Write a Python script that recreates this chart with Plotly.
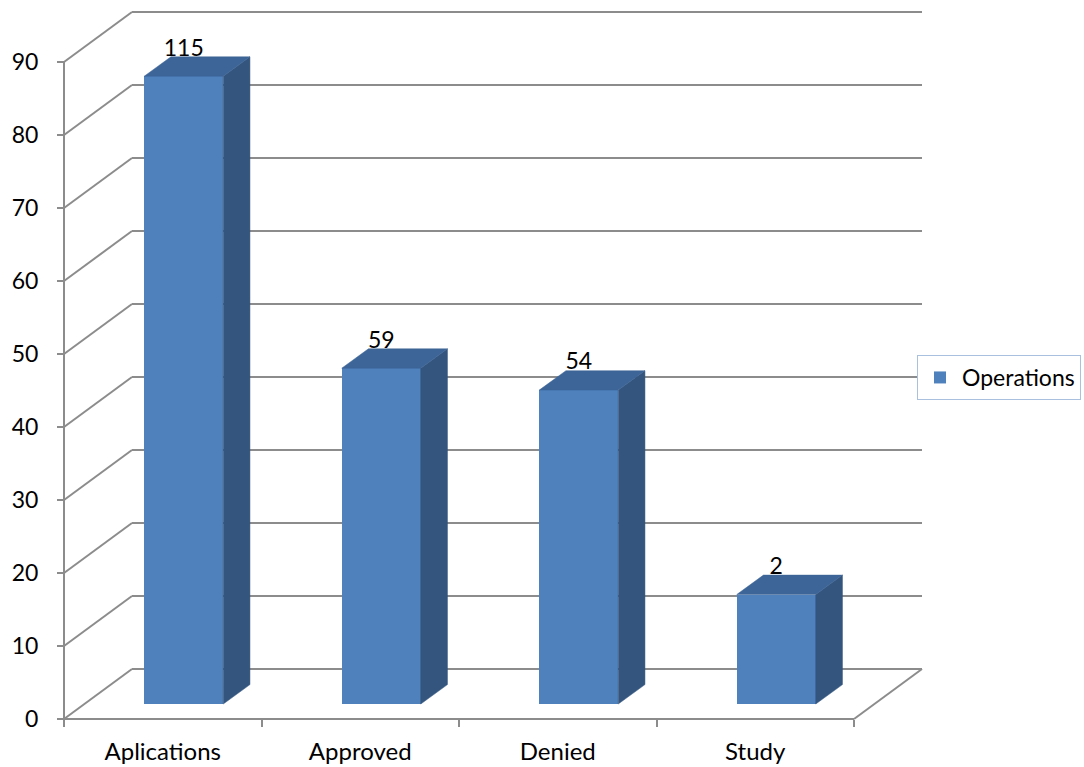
import plotly.graph_objects as go

# ---------------- data ----------------
categories = ["Aplications", "Approved", "Denied", "Study"]
bar_heights = [86, 46, 43, 15]          # bar heights
data_labels = ["115", "59", "54", "2"]  # data labels printed on the bars
y_ticks = [0, 10, 20, 30, 40, 50, 60, 70, 80, 90]
series_name = "Operations"

# ---------------- geometry / style ----------------
W, H = 1084, 767
PL, PR, PT, PB = 58, 928, 8, 724   # plot area in pixels
OX, OY = 64, 719                   # front origin (value 0, left edge)
SX = 197.5                         # pixels per category
SY = 7.3                           # pixels per value unit
FONT = "Lato, 'Open Sans', sans-serif"
GRAY = "#8C8C8C"
FRONT = "#4F81BD"
SIDE = "#33557E"
TOP = "#3D6597"


def px2x(p):
    return -0.5 + (p - OX) / SX


def px2y(p):
    return (OY - p) / SY


BX, BY = 68 / SX, 50 / SY        # back wall offset (depth of the box)
FX, FY = 21 / SX, 15 / SY        # depth offset of bar front faces
DX, DY = 26.7 / SX, 19.4 / SY    # depth of each bar
BW = 79 / SX                     # bar width
LBL = 7.0 / SY                   # label centre above the back edge of bar top

n = len(categories)
x_left, x_right = -0.5, n - 0.5

fig = go.Figure()

# front faces (real bar trace)
fig.add_trace(go.Bar(
    x=[i + FX for i in range(n)], y=bar_heights, base=FY, width=BW,
    marker=dict(color=FRONT, line=dict(width=0)), name=series_name,
    hovertext=categories, hoverinfo="text+y", showlegend=True,
))

# side and top faces
for i, h in enumerate(bar_heights):
    xl = i + FX - BW / 2
    xr = i + FX + BW / 2
    b0 = FY
    b1 = FY + h
    fig.add_trace(go.Scatter(
        x=[xr, xr + DX, xr + DX, xr, xr], y=[b0, b0 + DY, b1 + DY, b1, b0],
        fill="toself", fillcolor=SIDE, mode="lines",
        line=dict(color=SIDE, width=0.5), hoverinfo="skip", showlegend=False,
    ))
    fig.add_trace(go.Scatter(
        x=[xl, xr, xr + DX, xl + DX, xl], y=[b1, b1, b1 + DY, b1 + DY, b1],
        fill="toself", fillcolor=TOP, mode="lines",
        line=dict(color=TOP, width=0.5), hoverinfo="skip", showlegend=False,
    ))

# data labels
fig.add_trace(go.Scatter(
    x=[i + FX for i in range(n)], y=[FY + h + DY + LBL for h in bar_heights],
    text=data_labels, mode="text", textposition="middle center",
    textfont=dict(family=FONT, size=23, color="black"),
    hoverinfo="skip", showlegend=False, cliponaxis=False,
))

# gridlines / walls
shapes = []
line = dict(color=GRAY, width=2)
for v in y_ticks:
    shapes.append(dict(type="line", xref="x", yref="y", x0=x_left, y0=v,
                       x1=x_left + BX, y1=v + BY, line=line, layer="below"))
    shapes.append(dict(type="line", xref="x", yref="y", x0=x_left + BX, y0=v + BY,
                       x1=x_right + BX, y1=v + BY, line=line, layer="below"))
shapes.append(dict(type="line", xref="x", yref="y", x0=x_right, y0=0,
                   x1=x_right + BX, y1=BY, line=line, layer="below"))
shapes.append(dict(type="line", xref="x", yref="y", x0=x_left, y0=0,
                   x1=x_right, y1=0, line=line, layer="below"))
shapes.append(dict(type="line", xref="x", yref="y", x0=x_left, y0=0,
                   x1=x_left, y1=max(y_ticks), line=line, layer="below"))

fig.update_layout(
    width=W, height=H, autosize=False,
    margin=dict(l=PL, r=W - PR, t=PT, b=H - PB, pad=0, autoexpand=False),
    paper_bgcolor="white", plot_bgcolor="white",
    font=dict(family=FONT, size=23, color="black"),
    shapes=shapes,
    bargap=0,
    xaxis=dict(
        range=[px2x(PL), px2x(PR)], domain=[0, 1], anchor="free",
        position=(PB - OY) / (PB - PT), automargin=False,
        tickmode="array", tickvals=list(range(n)), ticktext=categories,
        ticks="", showline=False, showgrid=False, zeroline=False,
        tickfont=dict(family=FONT, size=24, color="black"),
        ticklabelstandoff=16,
        minor=dict(tickmode="array", tickvals=[i - 0.5 for i in range(n + 1)],
                   ticks="outside", ticklen=7, tickwidth=2, tickcolor=GRAY,
                   showgrid=False),
        fixedrange=True,
    ),
    yaxis=dict(
        range=[px2y(PB), px2y(PT)], domain=[0, 1], anchor="free",
        position=(OX - PL) / (PR - PL), automargin=False,
        tickmode="array", tickvals=y_ticks,
        ticks="outside", ticklen=7, tickwidth=2, tickcolor=GRAY,
        showline=False, showgrid=False, zeroline=False,
        tickfont=dict(family=FONT, size=23, color="black"),
        ticklabelstandoff=14,
        fixedrange=True,
    ),
    legend=dict(
        x=(917 - PL) / (PR - PL), y=(PB - 355) / (PB - PT),
        xanchor="left", yanchor="top",
        bordercolor="#A9C1DF", borderwidth=1, bgcolor="white",
        font=dict(family=FONT, size=23, color="black"),
        itemwidth=34,
    ),
    showlegend=True,
)

fig.write_html(
    "out.html", include_plotlyjs=True,
    config={"displayModeBar": False},
    post_script="document.body.style.margin='0';document.body.style.overflow='hidden';",
)
